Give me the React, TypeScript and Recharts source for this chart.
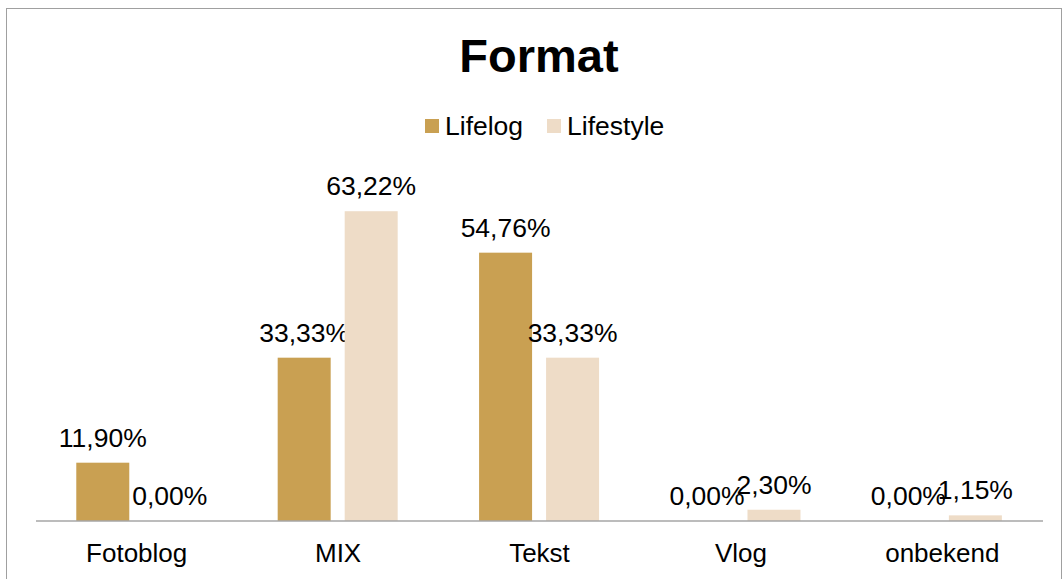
import React from 'react';
import { BarChart, Bar, XAxis, YAxis } from 'recharts';

const categories = ['Fotoblog', 'MIX', 'Tekst', 'Vlog', 'onbekend'];
const lifelog = [11.9, 33.33, 54.76, 0, 0];
const lifestyle = [0, 63.22, 33.33, 2.3, 1.15];
const seriesNames = ['Lifelog', 'Lifestyle'];
const colors = ['#C9A052', '#EEDCC7'];

const data = categories.map((c, i) => ({ name: c, Lifelog: lifelog[i], Lifestyle: lifestyle[i] }));

const fmt = (v: any) => Number(v).toFixed(2).replace('.', ',') + '%';

const FONT = '"Liberation Sans", Arial, sans-serif';

const makeShape = (key: string, color: string) => (props: any) => {
  const { x, y, width, height, payload } = props;
  const v = payload ? payload[key] : 0;
  const top = Math.min(y, y + height);
  return (
    <g>
      {Math.abs(height) > 0 && <rect x={x} y={top} width={width} height={Math.abs(height)} fill={color} />}
      <text x={x + width / 2} y={top - 16} textAnchor="middle" fill="#000" fontSize={26.5} fontFamily={FONT}>{fmt(v)}</text>
    </g>
  );
};

export default function App() {
  return (
    <div style={{ position: 'absolute', left: 0, top: 0, width: 1064, height: 579, overflow: 'hidden', background: '#fff', fontFamily: FONT }}>
      <div style={{ position: 'absolute', left: 6, top: 8, width: 1056, height: 620, border: '1.5px solid #A0A0A0', boxSizing: 'border-box' }} />
      <div style={{ position: 'absolute', left: 0, top: 32, width: 1078, textAlign: 'center', fontSize: 47, lineHeight: '47px', fontWeight: 'bold', color: '#000' }}>Format</div>
      <div style={{ position: 'absolute', left: 425, top: 112, height: 28, display: 'flex', alignItems: 'center', fontSize: 26.5, color: '#000' }}>
        {seriesNames.map((n, i) => (
          <div key={n} style={{ display: 'flex', alignItems: 'center', marginRight: i === 0 ? 24 : 0 }}>
            <div style={{ width: 14, height: 14, background: colors[i], marginRight: 6 }} />
            <span>{n}</span>
          </div>
        ))}
      </div>
      <div style={{ position: 'absolute', left: 0, top: 0 }}>
        <BarChart width={1064} height={579} data={data} margin={{ top: 178, right: 21, bottom: 18, left: 36 }} barCategoryGap="20%" barGap={14}>
          <XAxis dataKey="name" tickLine={false} axisLine={{ stroke: '#A6A6A6', strokeWidth: 1.5 }} tick={{ fill: '#000', fontSize: 26, fontFamily: FONT }} tickMargin={17} height={40} interval={0} />
          <YAxis hide domain={[0, 70]} />
          {seriesNames.map((n, i) => (
            <Bar key={n} dataKey={n} fill={colors[i]} isAnimationActive={false} shape={makeShape(n, colors[i])} />
          ))}
        </BarChart>
      </div>
    </div>
  );
}
